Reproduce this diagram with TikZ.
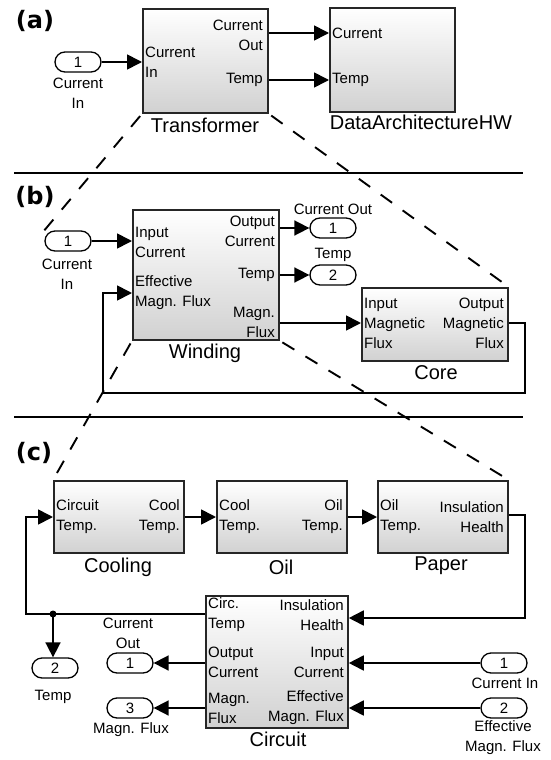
\documentclass[tikz,border=0pt]{standalone}
\usepackage{fontspec}
\setmainfont{Liberation Sans}
\newfontfamily\panelfont{DejaVu Sans}
\usetikzlibrary{arrows.meta,calc}
\begin{document}
\begin{tikzpicture}[x=1pt,y=-1pt,
  blk/.style={draw=black!85, line width=1.8pt, top color=white, bottom color=black!18,
    inner sep=0pt, anchor=north west},
  pl/.style={font=\fontsize{15}{20}\selectfont, inner sep=1pt, align=left, anchor=west},
  pr/.style={font=\fontsize{15}{20}\selectfont, inner sep=1pt, align=right, anchor=east},
  lbl/.style={font=\fontsize{15}{20}\selectfont, inner sep=0pt, align=center},
  ttl/.style={font=\fontsize{20}{24}\selectfont, inner sep=0pt},
  panel/.style={font=\panelfont\bfseries\fontsize{24}{28}\selectfont, inner sep=0pt},
  port/.style={draw, line width=1.3pt, rounded corners=10pt, minimum width=46pt,
    minimum height=20pt, inner sep=0pt, font=\fontsize{15}{18}\selectfont},
  wire/.style={line width=1.7pt},
  arr/.style={line width=1.7pt, -{Triangle[length=15pt,width=15pt]}},
  dsh/.style={line width=1.9pt, dash pattern=on 14pt off 13pt},
  sepline/.style={line width=2pt}]
\useasboundingbox (0,0) rectangle (550,760);

% ---------------- (a) ----------------
\node[panel] (pa) at (35,21) {(a)};
\node[blk, minimum width=125pt, minimum height=104pt] (T) at (142,8) {};
\node[blk, minimum width=125pt, minimum height=104pt] (D) at (329,7) {};
\node[ttl] (Tt) at (205,125) {Transformer};
\node[ttl] (Dt) at (421,122) {DataArchitectureHW};
\node[pl] (Tin) at (144,62) {Current\\In};
\node[pr] (Tout) at (264,35) {Current\\Out};
\node[pr] (Ttemp) at (264,80) {Temp};
\node[pl] (Dcur) at (331,33) {Current};
\node[pl] (Dtemp) at (331,80) {Temp};
\node[port] (a1) at (78,62) {1};
\node[lbl] (a1l) at (78,93) {Current\\In};
\draw[arr] (a1.east) -- (T.west |- a1);
\draw[arr] (T.east |- Dcur) -- (D.west |- Dcur);
\draw[arr] (T.east |- Dtemp) -- (D.west |- Dtemp);
\draw[sepline] (14,173) -- (523,173);

% ---------------- (b) ----------------
\node[panel] (pb) at (35,197) {(b)};
\node[blk, minimum width=146pt, minimum height=130pt] (W) at (132,209) {};
\node[blk, minimum width=146pt, minimum height=73pt] (C) at (361,287) {};
\node[ttl] (Wt) at (205,353) {Winding};
\node[ttl] (Ct) at (436,373) {Core};
\node[pl] (Win) at (134,242) {Input\\Current};
\node[pl] (Weff) at (134,293) {Effective\\Magn. Flux};
\node[pr] (Wout) at (276,231) {Output\\Current};
\node[pr] (Wtemp) at (276,275) {Temp};
\node[pr] (Wflux) at (276,322) {Magn.\\Flux};
\node[pl] (Cin) at (363,323) {Input\\Magnetic\\Flux};
\node[pr] (Cout) at (505,323) {Output\\Magnetic\\Flux};
\node[port] (b1) at (68,241) {1};
\node[lbl] (b1l) at (67,274) {Current\\In};
\node[port] (bo1) at (333,228) {1};
\node[lbl] (bo1l) at (333,209) {Current Out};
\node[port] (bo2) at (333,275) {2};
\node[lbl] (bo2l) at (333,255) {Temp};
\coordinate (fbr) at (525,393);
\coordinate (fbl) at (103,393);
\draw[arr] (b1.east) -- (W.west |- b1);
\draw[arr] (W.east |- bo1) -- (bo1.west);
\draw[arr] (W.east |- bo2) -- (bo2.west);
\draw[arr] (W.east |- Cin) -- (C.west |- Cin);
\draw[arr] (C.east |- Cout) -| (fbr) -- (fbl) |- (W.west |- Weff);
\draw[sepline] (14,417) -- (523,417);

% dashed zoom lines (a)->(b)
\draw[dsh, shorten <=3pt] (T.south west) -- (b1.north west);
\draw[dsh, shorten <=3pt] (T.south east) -- (C.north east);

% ---------------- (c) ----------------
\node[panel] (pc) at (34,453) {(c)};
\node[blk, minimum width=130pt, minimum height=72pt] (Co) at (53,480) {};
\node[blk, minimum width=130pt, minimum height=72pt] (O) at (216,480) {};
\node[blk, minimum width=130pt, minimum height=72pt] (P) at (377,480) {};
\node[blk, minimum width=142pt, minimum height=132pt] (Ci) at (205,595) {};
\node[ttl] (Cot) at (118,567) {Cooling};
\node[ttl] (Ot) at (281,567) {Oil};
\node[ttl] (Pt) at (441,566) {Paper};
\node[ttl] (Cit) at (278,739) {Circuit};
\node[pl] (Coin) at (55,517) {Circuit\\Temp.};
\node[pr] (Coout) at (181,517) {Cool\\Temp.};
\node[pl] (Oin) at (218,517) {Cool\\Temp.};
\node[pr] (Oout) at (344,517) {Oil\\Temp.};
\node[pl] (Pin) at (379,517) {Oil\\Temp.};
\node[pr] (Pout) at (505,517) {Insulation\\Health};
\node[pl] (Citemp) at (207,615) {Circ.\\Temp};
\node[pr] (Cihealth) at (345,615) {Insulation\\Health};
\node[pl] (Cioc) at (207,662) {Output\\Current};
\node[pr] (Ciic) at (345,662) {Input\\Current};
\node[pl] (Cimf) at (207,708) {Magn.\\Flux};
\node[pr] (Ciem) at (345,708) {Effective\\Magn. Flux};
\draw[arr] (Co.east |- Coout) -- (O.west |- Oin);
\draw[arr] (O.east |- Oout) -- (P.west |- Pin);
\coordinate (pr1) at (525,618);
\draw[arr] ($(P.east)+(0,-2)$) -| (pr1) -- (Ci.east |- pr1);
\coordinate (jn) at (53,614);
\coordinate (fl) at (26,614);
\draw[arr] (Ci.west |- jn) -- (fl) |- (Co.west |- Coin);
\fill (jn) circle (3.5pt);
\node[port] (co2) at (55,668) {2};
\node[lbl] (co2l) at (53,697) {Temp};
\draw[arr] (jn) -- (jn |- co2.north);
\node[port] (co1) at (130,663) {1};
\node[lbl] (co1l) at (128,633) {Current\\Out};
\node[port] (co3) at (130,708) {3};
\node[lbl] (co3l) at (131,730) {Magn. Flux};
\draw[arr] (Ci.west |- co1) -- (co1.east);
\draw[arr] (Ci.west |- co3) -- (co3.east);
\node[port] (ci1) at (504,663) {1};
\node[lbl] (ci1l) at (505,683) {Current In};
\node[port] (ci2) at (504,708) {2};
\node[lbl] (ci2l) at (503,738) {Effective\\Magn. Flux};
\draw[arr] (ci1.west) -- (Ci.east |- ci1);
\draw[arr] (ci2.west) -- (Ci.east |- ci2);

% dashed zoom lines (b)->(c)
\draw[dsh, shorten <=3pt] (W.south west) -- (Co.north west);
\draw[dsh, shorten <=3pt] (W.south east) -- (P.north east);
\end{tikzpicture}
\end{document}
